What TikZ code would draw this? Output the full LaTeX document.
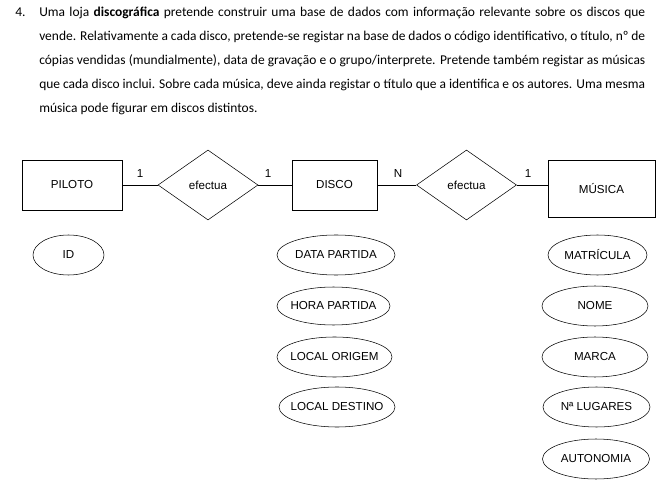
\documentclass[tikz,border=0pt]{standalone}
\usepackage{fontspec}
\setmainfont{Carlito}
\newfontfamily\arialfont{Liberation Sans}
\usetikzlibrary{shapes.geometric}
\begin{document}
\begin{tikzpicture}[x=0.75pt,y=-0.75pt,
  lbl/.style={font=\arialfont\fontsize{8.7}{10}\selectfont},
  entity/.style={lbl,draw,rectangle,inner sep=0pt,minimum height=37.5pt},
  rel/.style={lbl,draw,diamond,inner sep=0pt,minimum width=75pt,minimum height=52.5pt},
  attr/.style={lbl,draw,ellipse,inner sep=0pt,minimum height=30pt},
  card/.style={lbl,inner sep=0pt},
  para/.style={anchor=base west,inner sep=0pt,font=\fontsize{10.1}{18}\selectfont},
  conn/.style={draw,line width=0.6pt}]
\useasboundingbox (0,0) rectangle (668,481);
% paragraph
\node[para] (num) at (15,16.5) {4.};
\node[para] (l1) at (39,16.5) {\makebox[454.5pt][s]{Uma loja \textbf{discográfica} pretende construir uma base de dados com informação relevante sobre os discos que}};
\node[para] (l2) at (39,40.5) {\makebox[454.5pt][s]{vende. Relativamente a cada disco, pretende-se registar na base de dados o código identificativo, o título, nº de}};
\node[para] (l3) at (39,64.5) {\makebox[454.5pt][s]{cópias vendidas (mundialmente), data de gravação e o grupo/interprete. Pretende também registar as músicas}};
\node[para] (l4) at (39,88.5) {\makebox[454.5pt][s]{que cada disco inclui. Sobre cada música, deve ainda registar o título que a identifica e os autores. Uma mesma}};
\node[para] (l5) at (39,112.5) {música pode figurar em discos distintos.};
% entities and relationships
\node[entity,minimum width=75pt] (piloto) at (72,185) {PILOTO};
\node[rel] (r1) at (208,185) {efectua};
\node[entity,minimum width=63.75pt] (disco) at (334.5,185) {DISCO};
\node[rel] (r2) at (466.5,185) {efectua};
\node[entity,minimum width=80.25pt,minimum height=42.5pt] (musica) at (601.5,188.5) {MÚSICA};
\draw[conn] (piloto.east) -- (r1.west);
\draw[conn] (r1.east) -- (disco.west);
\draw[conn] (disco.east) -- (r2.west);
\draw[conn] (r2.east) -- (r2.east -| musica.west);
\node[card] (c1) at (140,174) {1};
\node[card] (c2) at (268,174) {1};
\node[card] (c3) at (398,174) {N};
\node[card] (c4) at (528,174) {1};
% attributes
\node[attr,minimum width=53.25pt] (id) at (68.5,255) {\makebox[0pt]{ID}};
\node[attr,minimum width=88.5pt] (dp) at (336,255) {\makebox[0pt]{DATA PARTIDA}};
\node[attr,minimum width=84.75pt,minimum height=28.5pt] (hp) at (333.5,306) {\makebox[0pt]{HORA PARTIDA}};
\node[attr,minimum width=86.25pt] (lo) at (334.5,357) {\makebox[0pt]{LOCAL ORIGEM}};
\node[attr,minimum width=87pt] (ld) at (337,407) {\makebox[0pt]{LOCAL DESTINO}};
\node[attr,minimum width=74.25pt] (mat) at (597.5,255) {\makebox[0pt]{MATRÍCULA}};
\node[attr,minimum width=79.5pt] (nome) at (595,306) {\makebox[0pt]{NOME}};
\node[attr,minimum width=79.5pt] (marca) at (595,357) {\makebox[0pt]{MARCA}};
\node[attr,minimum width=80.25pt] (lug) at (596.5,407) {\makebox[0pt]{Nª LUGARES}};
\node[attr,minimum width=80.25pt] (auto) at (596,459) {\makebox[0pt]{AUTONOMIA}};
\end{tikzpicture}
\end{document}
